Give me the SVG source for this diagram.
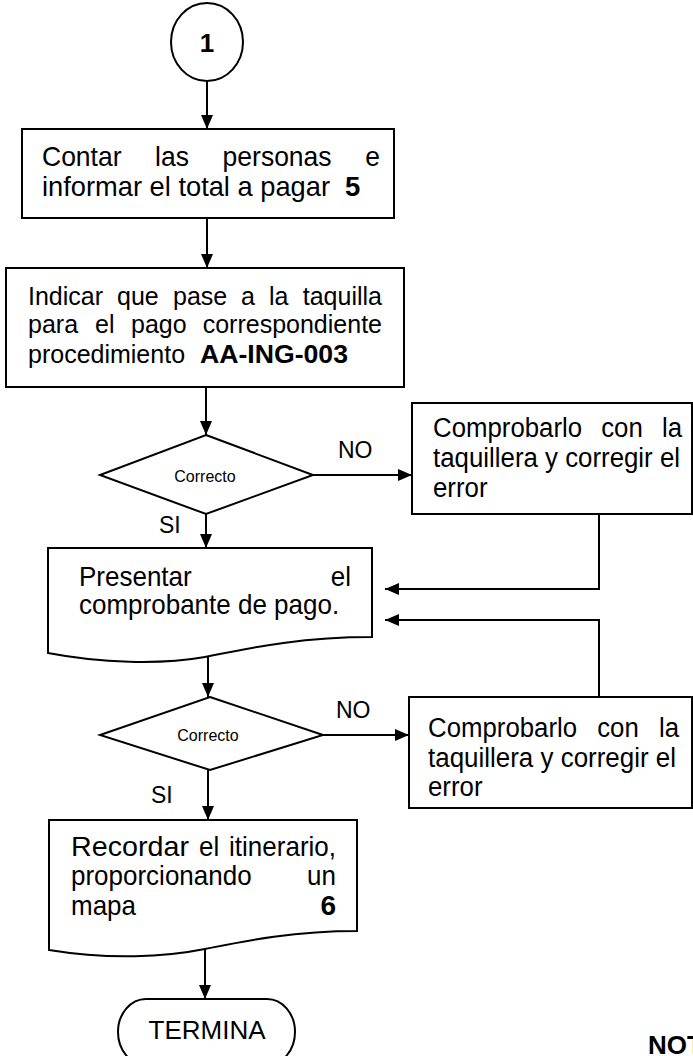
<svg xmlns="http://www.w3.org/2000/svg" width="693" height="1056" viewBox="0 0 693 1056">
<defs>
<marker id="ah" viewBox="0 0 14 12" refX="14" refY="6" markerWidth="14" markerHeight="12" markerUnits="userSpaceOnUse" orient="auto"><path d="M0,0 L14,6 L0,12 Z" fill="#000"/></marker>
</defs>
<style>
.s{fill:#fff;stroke:#000;stroke-width:2}
.t{font-family:"Liberation Sans",Arial,sans-serif;font-size:26px;fill:#000}
.b{font-weight:bold}
.e{text-anchor:end}
.c{fill:none;stroke:#000;stroke-width:2;marker-end:url(#ah)}
.l{font-family:"Liberation Sans",Arial,sans-serif;font-size:23px;fill:#000}
.sm{font-family:"Liberation Sans",Arial,sans-serif;font-size:16px;text-anchor:middle;fill:#000}
.f1{font-size:27.5px}
.f2{font-size:25px}
.f3{font-size:28px}
.f4{font-size:27px}
</style>
<rect width="693" height="1056" fill="#fff"/>

<g id="start">
<ellipse class="s" cx="207" cy="42" rx="36" ry="39"/>
<text class="t b" x="207" y="52" font-size="22" text-anchor="middle">1</text>
</g>

<g id="box1">
<rect class="s" x="22" y="129" width="372" height="89"/>
<text class="t f1" x="42" y="166" textLength="79.5" lengthAdjust="spacingAndGlyphs">Contar</text>
<text class="t f1" x="155" y="166" textLength="33.9" lengthAdjust="spacingAndGlyphs">las</text>
<text class="t f1" x="222.6" y="166" textLength="109" lengthAdjust="spacingAndGlyphs">personas</text>
<text class="t f1" x="365.3" y="166" textLength="14.7" lengthAdjust="spacingAndGlyphs">e</text>
<text class="t f1" x="42" y="196" textLength="288" lengthAdjust="spacingAndGlyphs">informar el total a pagar</text>
<text class="t b f1" x="345" y="196">5</text>
</g>

<g id="box2">
<rect class="s" x="6" y="268" width="398" height="119"/>
<text class="t f2" y="305"><tspan x="28">Indicar</tspan><tspan x="117">que</tspan><tspan x="173">pase</tspan><tspan x="241">a</tspan><tspan x="269">la</tspan></text>
<text class="t f2 e" x="382" y="305">taquilla</text>
<text class="t f2" y="333"><tspan x="28">para</tspan><tspan x="95">el</tspan><tspan x="131">pago</tspan></text>
<text class="t f2 e" x="382" y="333">correspondiente</text>
<text class="t f2" x="28" y="363">procedimiento</text>
<text class="t b f2" x="200" y="363" textLength="148" lengthAdjust="spacingAndGlyphs">AA-ING-003</text>
</g>

<g id="dec1">
<polygon class="s" points="206,435 313,475 206,514 100,475"/>
<text class="sm" x="205" y="482">Correcto</text>
</g>

<g id="box4">
<rect class="s" x="412" y="403" width="280" height="111"/>
<text class="t f4" x="433" y="437" textLength="149.1" lengthAdjust="spacingAndGlyphs">Comprobarlo</text>
<text class="t f4" x="601.2" y="437" textLength="41.6" lengthAdjust="spacingAndGlyphs">con</text>
<text class="t f4" x="661.9" y="437" textLength="20.1" lengthAdjust="spacingAndGlyphs">la</text>
<text class="t f4" x="433" y="467" textLength="247" lengthAdjust="spacingAndGlyphs">taquillera y corregir el</text>
<text class="t f4" x="433" y="497" textLength="54.5" lengthAdjust="spacingAndGlyphs">error</text>
</g>

<g id="box3">
<path class="s" d="M48,548 H372 V637 C300,637 250,648 205,657 C160,665 100,663 48,653 Z"/>
<text class="t f3" x="79" y="586" textLength="112.7" lengthAdjust="spacingAndGlyphs">Presentar</text>
<text class="t f3" x="330.8" y="586" textLength="20.2" lengthAdjust="spacingAndGlyphs">el</text>
<text class="t f3" x="79" y="614" textLength="260.2" lengthAdjust="spacingAndGlyphs">comprobante de pago.</text>
</g>

<g id="dec2">
<polygon class="s" points="210,697 323,735 210,770 100,735"/>
<text class="sm" x="208" y="741">Correcto</text>
</g>

<g id="box5">
<rect class="s" x="409" y="697" width="283" height="111"/>
<text class="t f4" x="428" y="737" textLength="149.1" lengthAdjust="spacingAndGlyphs">Comprobarlo</text>
<text class="t f4" x="597.2" y="737" textLength="41.6" lengthAdjust="spacingAndGlyphs">con</text>
<text class="t f4" x="658.9" y="737" textLength="20.1" lengthAdjust="spacingAndGlyphs">la</text>
<text class="t f4" x="428" y="767" textLength="248" lengthAdjust="spacingAndGlyphs">taquillera y corregir el</text>
<text class="t f4" x="428" y="796" textLength="54.5" lengthAdjust="spacingAndGlyphs">error</text>
</g>

<g id="box6">
<path class="s" d="M49,820 H357 V931 C290,931 240,942 205,949 C165,957 110,960 49,950 Z"/>
<text class="t f3" x="71" y="856" textLength="118" lengthAdjust="spacingAndGlyphs">Recordar</text>
<text class="t f3" x="199" y="856" textLength="20.2" lengthAdjust="spacingAndGlyphs">el</text>
<text class="t f3" x="229.1" y="856" textLength="106.9" lengthAdjust="spacingAndGlyphs">itinerario,</text>
<text class="t f3" x="71" y="885" textLength="180.6" lengthAdjust="spacingAndGlyphs">proporcionando</text>
<text class="t f3" x="307.1" y="885" textLength="28.9" lengthAdjust="spacingAndGlyphs">un</text>
<text class="t f3" x="71" y="915" textLength="65" lengthAdjust="spacingAndGlyphs">mapa</text>
<text class="t b f3" x="320.4" y="915">6</text>
</g>

<g id="end">
<rect class="s" x="118" y="999" width="177" height="66" rx="28" ry="33"/>
<text class="t" font-size="20" x="207" y="1039" text-anchor="middle">TERMINA</text>
</g>

<g id="note">
<text class="t b" font-size="22" x="648" y="1054">NOT</text>
</g>

<g id="connectors">
<path class="c" d="M207,81 V129"/>
<path class="c" d="M207,218 V268"/>
<path class="c" d="M206,387 V435"/>
<path class="c" d="M313,475 H412"/>
<path class="c" d="M206,514 V548"/>
<path class="c" d="M599,514 V589 H385"/>
<path class="c" d="M599,697 V620 H385"/>
<path class="c" d="M208,657 V697"/>
<path class="c" d="M323,735 H409"/>
<path class="c" d="M208,770 V820"/>
<path class="c" d="M205,949 V999"/>
<text class="l" x="338" y="458">NO</text>
<text class="l" x="159" y="533">SI</text>
<text class="l" x="336" y="718">NO</text>
<text class="l" x="151" y="803">SI</text>
</g>
</svg>
